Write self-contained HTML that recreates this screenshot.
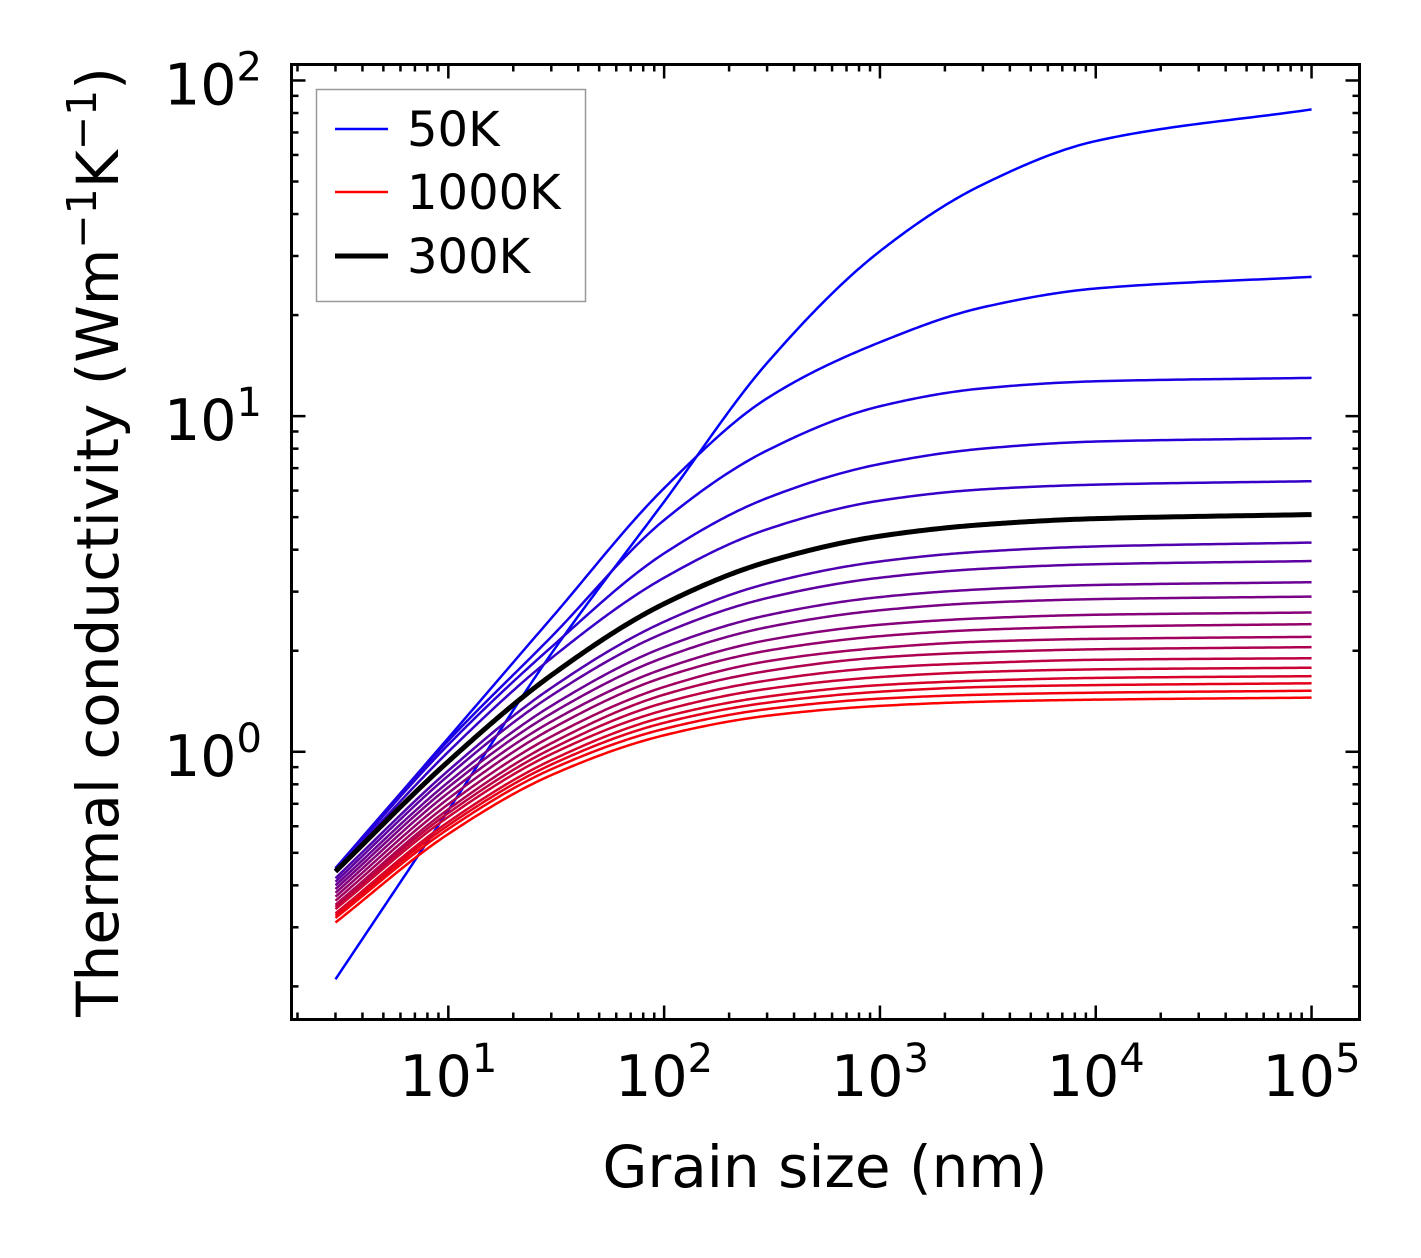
<!DOCTYPE html>
<html><head><meta charset="utf-8"><style>
html,body{margin:0;padding:0;background:#fff;}
svg{display:block;font-family:"DejaVu Sans","Liberation Sans",sans-serif;}
</style></head><body>
<svg id="chart" width="1421" height="1258" viewBox="0 0 1421 1258">
<g id="curves"></g>
<g id="ticks"></g>
<rect x="291.5" y="64.5" width="1068" height="955" fill="none" stroke="#000" stroke-width="3"/>
<g id="xlabels"></g>
<g id="ylabels"></g>
<text x="825" y="1187" font-size="58" text-anchor="middle">Grain size (nm)</text>
<text transform="translate(118,542) rotate(-90)" font-size="58" text-anchor="middle">Thermal conductivity (Wm<tspan dy="-22" font-size="41">−1</tspan><tspan dy="22">K</tspan><tspan dy="-22" font-size="41">−1</tspan><tspan dy="22">)</tspan></text>
<g>
<rect x="316.5" y="89.5" width="269" height="212" fill="#fff" stroke="#999" stroke-width="1.5"/>
<line x1="335" y1="129" x2="388" y2="129" stroke="#0000ff" stroke-width="2.5"/>
<text x="407" y="146" font-size="48">50K</text>
<line x1="335" y1="192" x2="388" y2="192" stroke="#ff0000" stroke-width="2.5"/>
<text x="407" y="209" font-size="48">1000K</text>
<line x1="335" y1="256" x2="388" y2="256" stroke="#000" stroke-width="5"/>
<text x="407" y="273" font-size="48">300K</text>
</g>
</svg>
<script>
const grainSizes = [3, 10, 30, 100, 300, 1000, 3000, 10000, 100000];
const temperatures = [50,100,150,200,250,300,350,400,450,500,550,600,650,700,750,800,850,900,950,1000];
const k50 = [0.21,0.67,1.96,5.56,14.4,31,49,66,82];
const k100 = [0.45,1.1,2.5,6.1,11.3,16.6,21.1,24.0,26];
const k150 = [0.45,1.08,2.2,4.9,7.9,10.7,12.1,12.7,13.0];
const k200 = [0.445,1.05,2.05,3.9,5.7,7.2,8.0,8.4,8.6];
const k250 = [0.44,1.0,1.9,3.3,4.6,5.6,6.05,6.25,6.4];
const k300 = [0.44,0.936,1.69,2.76,3.68,4.39,4.75,4.95,5.09];
const k350 = [0.42,0.879,1.55,2.44,3.17,3.69,3.95,4.09,4.2];
const k400 = [0.41,0.849,1.47,2.26,2.87,3.3,3.51,3.62,3.7];
const k450 = [0.40,0.812,1.37,2.05,2.55,2.89,3.05,3.14,3.2];
const k500 = [0.39,0.784,1.3,1.91,2.35,2.64,2.78,2.85,2.9];
const k550 = [0.38,0.754,1.23,1.77,2.15,2.39,2.5,2.56,2.6];
const k600 = [0.37,0.725,1.17,1.67,2.0,2.21,2.31,2.36,2.4];
const k650 = [0.36,0.698,1.11,1.56,1.86,2.04,2.13,2.17,2.2];
const k700 = [0.35,0.674,1.06,1.48,1.74,1.91,1.98,2.02,2.05];
const k750 = [0.345,0.657,1.02,1.4,1.63,1.78,1.84,1.88,1.9];
const k800 = [0.34,0.64,0.984,1.33,1.54,1.67,1.73,1.76,1.78];
const k850 = [0.33,0.618,0.944,1.27,1.46,1.58,1.63,1.66,1.68];
const k900 = [0.325,0.604,0.916,1.22,1.4,1.51,1.56,1.58,1.6];
const k950 = [0.32,0.589,0.887,1.17,1.34,1.44,1.48,1.5,1.52];
const k1000 = [0.31,0.569,0.852,1.12,1.28,1.37,1.41,1.43,1.45];
const series = [k50,k100,k150,k200,k250,k300,k350,k400,k450,k500,k550,k600,k650,k700,k750,k800,k850,k900,k950,k1000];
const xTickExps = [1,2,3,4,5];
const yTickExps = [0,1,2];

const NS = "http://www.w3.org/2000/svg";
const X0 = 291.5, X1 = 1359.5, Y0 = 64.5, Y1 = 1019.5;
const XMIN = 0.2733, XMAX = 5.2222, YMIN = -0.7976, YMAX = 2.0476;
function xs(v){ return X0 + (Math.log10(v) - XMIN) / (XMAX - XMIN) * (X1 - X0); }
function ys(v){ return Y1 - (Math.log10(v) - YMIN) / (YMAX - YMIN) * (Y1 - Y0); }

// monotone cubic (Fritsch-Carlson) in log-log space
function pathFor(vals){
  const u = grainSizes.map(g=>Math.log10(g)), w = vals.map(v=>Math.log10(v));
  const n = u.length, h=[], d=[], m=[];
  for (let i=0;i<n-1;i++){ h[i]=u[i+1]-u[i]; d[i]=(w[i+1]-w[i])/h[i]; }
  m[0]=d[0]; m[n-1]=d[n-2];
  for (let i=1;i<n-1;i++){
    if (d[i-1]*d[i]<=0) m[i]=0;
    else { const w1=2*h[i]+h[i-1], w2=h[i]+2*h[i-1]; m[i]=(w1+w2)/(w1/d[i-1]+w2/d[i]); }
  }
  let s = "";
  for (let i=0;i<n-1;i++){
    const N=40;
    for (let k=(i===0?0:1);k<=N;k++){
      const t=k/N, t2=t*t, t3=t2*t;
      const val=(2*t3-3*t2+1)*w[i]+(t3-2*t2+t)*h[i]*m[i]+(-2*t3+3*t2)*w[i+1]+(t3-t2)*h[i]*m[i+1];
      const x=Math.pow(10,u[i]+t*h[i]), y=Math.pow(10,val);
      s += (s?" L":"M") + xs(x).toFixed(2) + "," + ys(y).toFixed(2);
    }
  }
  return s;
}
const cg = document.getElementById("curves");
series.forEach((vals, i) => {
  const t = (temperatures[i] - 50) / 950;
  const el = document.createElementNS(NS, "path");
  el.setAttribute("d", pathFor(vals));
  el.setAttribute("fill", "none");
  el.setAttribute("stroke", "rgb(" + Math.round(255*t) + ",0," + Math.round(255*(1-t)) + ")");
  el.setAttribute("stroke-width", "2.5");
  el.setAttribute("stroke-linejoin", "round");
  
  
  cg.appendChild(el);
});
{
  const el = document.createElementNS(NS, "path");
  el.setAttribute("d", pathFor(k300));
  el.setAttribute("fill", "none");
  el.setAttribute("stroke", "#000");
  el.setAttribute("stroke-width", "5");
  el.setAttribute("stroke-linejoin", "round");
  
  
  cg.appendChild(el);
}

const tg = document.getElementById("ticks");
function line(x1,y1,x2,y2,w){
  const l = document.createElementNS(NS,"line");
  l.setAttribute("x1",x1);l.setAttribute("y1",y1);l.setAttribute("x2",x2);l.setAttribute("y2",y2);
  l.setAttribute("stroke","#000");l.setAttribute("stroke-width",w);
  
  
  tg.appendChild(l);
}
for (let e=0;e<=5;e++){
  for (let m=1;m<=9;m++){
    const v = m*Math.pow(10,e);
    const x = xs(v);
    if (x < X0+1 || x > X1-1) continue;
    const L = m===1 ? 14 : 7;
    line(x,Y1,x,Y1-L,2.5); line(x,Y0,x,Y0+L,2.5);
  }
}
for (let e=-1;e<=2;e++){
  for (let m=1;m<=9;m++){
    const v = m*Math.pow(10,e);
    const y = ys(v);
    if (y < Y0+1 || y > Y1-1) continue;
    const L = m===1 ? 14 : 7;
    line(X0,y,X0+L,y,2.5); line(X1,y,X1-L,y,2.5);
  }
}
const xl = document.getElementById("xlabels");
xTickExps.forEach(e=>{
  const t = document.createElementNS(NS,"text");
  t.setAttribute("x", xs(Math.pow(10,e)));
  t.setAttribute("y", 1096);
  t.setAttribute("font-size","57");
  t.setAttribute("text-anchor","middle");
  t.innerHTML = '10<tspan dy="-24" font-size="40">' + e + '</tspan>';
  
  
  xl.appendChild(t);
});
const yl = document.getElementById("ylabels");
yTickExps.forEach(e=>{
  const t = document.createElementNS(NS,"text");
  t.setAttribute("x", 262);
  t.setAttribute("y", ys(Math.pow(10,e)) + 24);
  t.setAttribute("font-size","57");
  t.setAttribute("text-anchor","end");
  t.innerHTML = '10<tspan dy="-24" font-size="40">' + e + '</tspan>';
  
  
  yl.appendChild(t);
});
</script>
</body></html>
